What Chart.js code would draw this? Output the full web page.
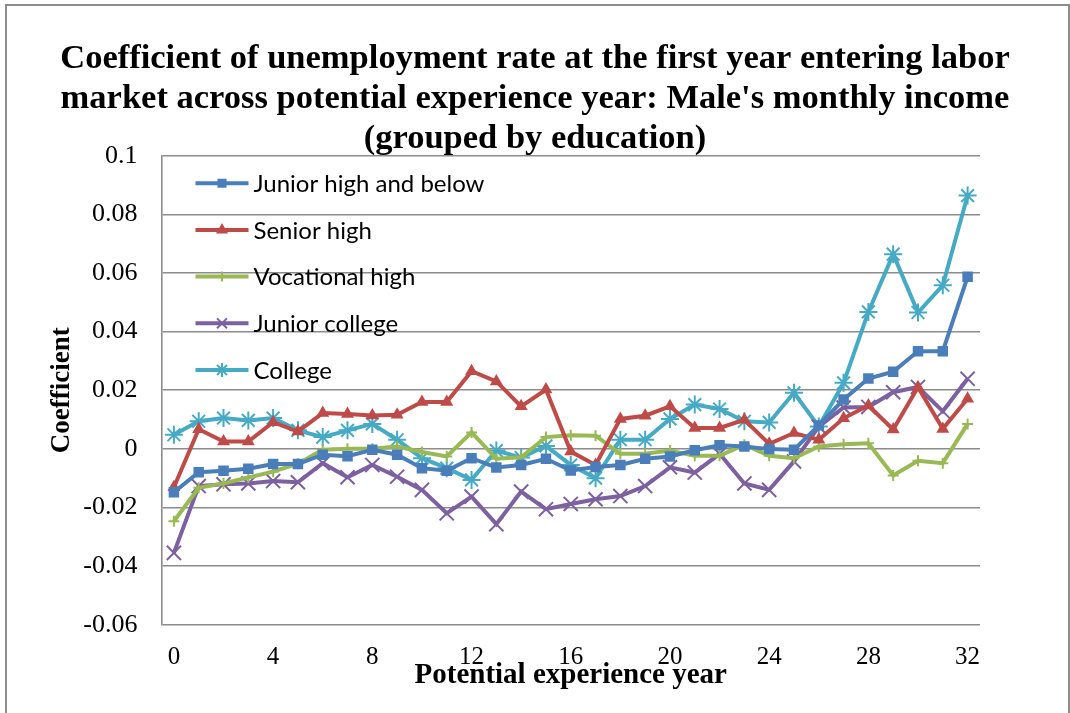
<!DOCTYPE html>
<html>
<head>
<meta charset="utf-8">
<script src="https://cdn.jsdelivr.net/npm/chart.js@4/dist/chart.umd.min.js"></script>
<style>
  html, body { margin: 0; padding: 0; background: #fff; }
  #wrap { position: relative; width: 1070px; height: 713px; overflow: hidden; }
  #frame { position: absolute; left: 5px; top: 4px; width: 1065px; height: 720px; border: 2px solid #8c8c8c; box-sizing: border-box; pointer-events: none; }
</style>
</head>
<body>
<div id="wrap">
  <canvas id="chart" width="1070" height="713"></canvas>
  <div id="frame"></div>
</div>
<script>
// x categories: potential experience year
const years = [0, 1, 2, 3, 4, 5, 6, 7, 8, 9, 10, 11, 12, 13, 14, 15, 16,
               17, 18, 19, 20, 21, 22, 23, 24, 25, 26, 27, 28, 29, 30, 31, 32];
const shownYears = [0, 4, 8, 12, 16, 20, 24, 28, 32];

// y axis range
const yMin = -0.06;
const yMax = 0.1;
const yStep = 0.02;

const seriesNames = ['Junior high and below', 'Senior high', 'Vocational high', 'Junior college', 'College'];

const juniorHigh = [-0.0148, -0.008, -0.0075, -0.0068, -0.0052, -0.0052, -0.002, -0.0025, -0.0003, -0.002,
  -0.0066, -0.0075, -0.0032, -0.0064, -0.0055, -0.0034, -0.0074, -0.0062, -0.0055, -0.0034,
  -0.0026, -0.0005, 0.0012, 0.0008, -0.0001, -0.0003, 0.008, 0.0168, 0.024, 0.0263,
  0.0333, 0.0333, 0.0587];
const seniorHigh = [-0.0131, 0.0067, 0.0025, 0.0025, 0.0091, 0.0059, 0.0122, 0.0119, 0.0114, 0.0116,
  0.016, 0.016, 0.0265, 0.023, 0.0145, 0.0202, -0.0009, -0.0055, 0.0102, 0.0113,
  0.0145, 0.0071, 0.0071, 0.0099, 0.0017, 0.0054, 0.0031, 0.0104, 0.0148, 0.0066,
  0.021, 0.0068, 0.0171];
const vocationalHigh = [-0.0247, -0.0133, -0.0118, -0.0098, -0.0078, -0.0051, -0.0003, 0, 0, 0.0008,
  -0.0011, -0.0026, 0.0056, -0.0034, -0.0029, 0.004, 0.0046, 0.0045, -0.0017, -0.0017,
  -0.0006, -0.0024, -0.0024, 0.0014, -0.0024, -0.0032, 0.0008, 0.0016, 0.0019, -0.0091,
  -0.0041, -0.0049, 0.0085];
const juniorCollege = [-0.0355, -0.0127, -0.0121, -0.0118, -0.011, -0.0114, -0.0049, -0.0097, -0.0055, -0.0095,
  -0.014, -0.022, -0.0163, -0.0257, -0.0146, -0.0206, -0.0188, -0.0172, -0.0161, -0.0127,
  -0.0063, -0.0081, -0.0017, -0.0118, -0.014, -0.0043, 0.0076, 0.0141, 0.0143, 0.0193,
  0.0211, 0.0128, 0.0239];
const college = [0.0048, 0.0094, 0.0105, 0.0097, 0.0105, 0.0063, 0.004, 0.0063, 0.0085, 0.0031,
  -0.0032, -0.0066, -0.0106, -0.0006, -0.003, 0.001, -0.0055, -0.01, 0.0031, 0.0031,
  0.0102, 0.0151, 0.0136, 0.0094, 0.009, 0.0191, 0.0076, 0.0225, 0.0467, 0.0664,
  0.0465, 0.0558, 0.0864];

const colors = ['#4A7EBB', '#BE4B48', '#98B954', '#7D60A0', '#46AAC5'];
const markers = ['rect', 'triangle', 'cross', 'crossRot', 'star'];
const markerSize = [6, 5.5, 5.5, 10, 9];
const legendMarkerSize = [5, 5, 5, 7, 7];

const serifFont = "'Liberation Serif', 'Times New Roman', serif";

function makeSet(i, values) {
    return {
        label: seriesNames[i],
        data: values,
        borderColor: colors[i],
        backgroundColor: colors[i],
        borderWidth: 4,
        pointStyle: markers[i],
        pointRadius: markerSize[i],
        pointBorderWidth: 2,
        pointBackgroundColor: colors[i],
        pointBorderColor: colors[i],
        tension: 0,
        yAxisID: 'y'
    };
}

// legend drawn inside the plot, top-left, stacked like the Excel one
const insideLegend = {
    id: 'insideLegend',
    afterDraw(chart) {
        const { ctx, chartArea } = chart;
        chart.data.datasets.forEach((ds, i) => {
            const y = chartArea.top + 27.5 + i * 46.7;
            const x0 = chartArea.left + 34;
            const x1 = chartArea.left + 87;
            ctx.save();
            ctx.strokeStyle = ds.borderColor;
            ctx.fillStyle = ds.borderColor;
            ctx.lineWidth = 4;
            ctx.beginPath();
            ctx.moveTo(x0, y);
            ctx.lineTo(x1, y);
            ctx.stroke();
            ctx.lineWidth = 2;
            Chart.helpers.drawPoint(ctx, { pointStyle: ds.pointStyle, radius: legendMarkerSize[i], borderWidth: 2, rotation: 0 }, (x0 + x1) / 2, y);
            ctx.fillStyle = '#000';
            ctx.font = "24px Lato, 'Open Sans', sans-serif";
            ctx.textBaseline = 'middle';
            ctx.textAlign = 'left';
            ctx.fillText(ds.label, x1 + 5, y + 1);
            ctx.restore();
        });
    }
};

const ctx = document.getElementById('chart').getContext('2d');
new Chart(ctx, {
    type: 'line',
    data: {
        labels: years,
        datasets: [
            makeSet(0, juniorHigh),
            makeSet(1, seniorHigh),
            makeSet(2, vocationalHigh),
            makeSet(3, juniorCollege),
            makeSet(4, college)
        ]
    },
    options: {
        responsive: false,
        animation: false,
        layout: { padding: 0 },
        plugins: {
            legend: { display: false },
            tooltip: { enabled: false },
            title: {
                display: true,
                text: ['Coefficient of unemployment rate at the first year entering labor',
                       "market across potential experience year: Male's monthly income",
                       '(grouped by education)'],
                color: '#000',
                font: { family: serifFont, size: 34.5, weight: 'bold', lineHeight: 1.1594 },
                padding: { top: 39.4, bottom: -3.7 }
            }
        },
        scales: {
            x: {
                type: 'category',
                offset: true,
                grid: { display: false, drawTicks: false },
                border: { display: false },
                ticks: {
                    autoSkip: false,
                    maxRotation: 0,
                    color: '#000',
                    padding: 18,
                    font: { family: serifFont, size: 25 },
                    callback: function (value) {
                        const lab = this.getLabelForValue(value);
                        return shownYears.includes(Number(lab)) ? lab : '';
                    }
                },
                title: {
                    display: true,
                    text: 'Potential experience year',
                    color: '#000',
                    font: { family: serifFont, size: 29, weight: 'bold' },
                    padding: { top: 0, bottom: 20 }
                },
                afterFit: (scale) => { scale.height = 88.3; }
            },
            y: {
                min: yMin,
                max: yMax,
                grid: { color: '#8c8c8c', lineWidth: 1.6, drawTicks: false },
                border: { display: true, color: '#8c8c8c', width: 1.6 },
                ticks: {
                    stepSize: yStep,
                    color: '#000',
                    padding: 24,
                    font: { family: serifFont, size: 26 },
                    callback: (v) => String(+v.toFixed(2))
                },
                title: {
                    display: true,
                    text: 'Coefficient',
                    color: '#000',
                    font: { family: serifFont, size: 27, weight: 'bold' },
                    padding: { top: 45.8, bottom: 0 }
                },
                afterFit: (scale) => { scale.width = 161.5; }
            },
            // empty right-hand axis only keeps the white margin right of the plot
            yRight: {
                type: 'linear',
                position: 'right',
                display: true,
                grid: { display: false, drawTicks: false },
                border: { display: false },
                ticks: { display: false },
                afterFit: (scale) => { scale.width = 90; }
            }
        }
    },
    plugins: [insideLegend]
});
</script>
</body>
</html>
